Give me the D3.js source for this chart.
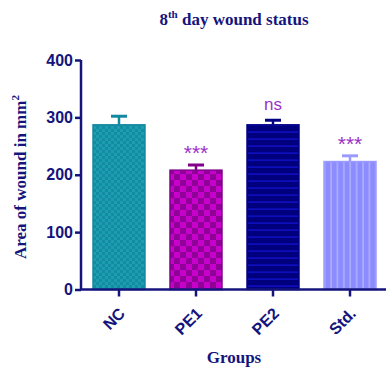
<!DOCTYPE html>
<html>
<head>
<meta charset="utf-8">
<script src="https://cdn.jsdelivr.net/npm/d3@7/dist/d3.min.js"></script>
<style>
  html, body { margin: 0; padding: 0; background: #fff; }
  svg { display: block; }
</style>
</head>
<body>
<svg id="chart" width="386" height="371"></svg>
<script>
// Wound area on day 8 (mean and upper error), per treatment group
const groups = ["NC", "PE1", "PE2", "Std."];
const means = [287, 208, 287, 223];
const errors = [15, 9, 8, 10];
const marks = ["", "***", "ns", "***"];
const yTicks = [0, 100, 200, 300, 400];

const svg = d3.select("#chart");
const navy = "#14147c";

const x = d3.scaleBand().domain(groups).range([80.5, 388.5])
  .paddingInner(0.325).paddingOuter(0.1625);
const y = d3.scaleLinear().domain([0, 400]).range([289.5, 60]);

// Fill patterns for each bar
const defs = svg.append("defs");
const p1 = defs.append("pattern").attr("id", "pNC").attr("patternUnits", "userSpaceOnUse")
  .attr("width", 6).attr("height", 6);
p1.append("rect").attr("width", 6).attr("height", 6).attr("fill", "#1c9db0");
p1.append("rect").attr("width", 3).attr("height", 3).attr("fill", "#138ba2");
p1.append("rect").attr("x", 3).attr("y", 3).attr("width", 3).attr("height", 3).attr("fill", "#138ba2");

const p2 = defs.append("pattern").attr("id", "pPE1").attr("patternUnits", "userSpaceOnUse")
  .attr("width", 12).attr("height", 12);
p2.append("rect").attr("width", 12).attr("height", 12).attr("fill", "#c800cc");
p2.append("rect").attr("width", 6).attr("height", 6).attr("fill", "#8e0096");
p2.append("rect").attr("x", 6).attr("y", 6).attr("width", 6).attr("height", 6).attr("fill", "#8e0096");

const p3 = defs.append("pattern").attr("id", "pPE2").attr("patternUnits", "userSpaceOnUse")
  .attr("width", 7).attr("height", 7);
p3.append("rect").attr("width", 7).attr("height", 7).attr("fill", "#00007e");
p3.append("rect").attr("y", 5.5).attr("width", 7).attr("height", 1.2).attr("fill", "#1414d8");

const p4 = defs.append("pattern").attr("id", "pStd").attr("patternUnits", "userSpaceOnUse")
  .attr("width", 6.4).attr("height", 6);
p4.append("rect").attr("width", 6.4).attr("height", 6).attr("fill", "#8c8cff");
p4.append("rect").attr("x", 4).attr("width", 1.3).attr("height", 6).attr("fill", "#b4b4ff");

const fills = ["url(#pNC)", "url(#pPE1)", "url(#pPE2)", "url(#pStd)"];
const edges = ["#1289a0", "#82008c", "#000080", "#9a9aff"];

// Error bars (upper only)
const eb = svg.append("g");
groups.forEach((g, i) => {
  const cx = x(g) + x.bandwidth() / 2;
  eb.append("line").attr("x1", cx).attr("x2", cx)
    .attr("y1", y(means[i])).attr("y2", y(means[i] + errors[i]))
    .attr("stroke", edges[i]).attr("stroke-width", 2.5);
  eb.append("line").attr("x1", cx - 8).attr("x2", cx + 8)
    .attr("y1", y(means[i] + errors[i])).attr("y2", y(means[i] + errors[i]))
    .attr("stroke", edges[i]).attr("stroke-width", 3);
});

// Bars
svg.append("g").selectAll("rect").data(groups).join("rect")
  .attr("x", d => x(d))
  .attr("y", (d, i) => y(means[i]))
  .attr("width", x.bandwidth())
  .attr("height", (d, i) => y(0) - y(means[i]))
  .attr("fill", (d, i) => fills[i])
  .attr("stroke", (d, i) => edges[i])
  .attr("stroke-width", 1.5);

// Significance marks
svg.append("g").selectAll("text").data(groups).join("text")
  .attr("x", d => x(d) + x.bandwidth() / 2)
  .attr("y", (d, i) => y(means[i] + errors[i]) - (marks[i] === "ns" ? 10 : 5))
  .attr("text-anchor", "middle")
  .attr("font-family", "Arial, 'Liberation Sans', sans-serif")
  .attr("font-size", (d, i) => marks[i] === "ns" ? 17 : 21)
  .attr("fill", "#9a32c8")
  .text((d, i) => marks[i]);

// Y axis
const yAxis = svg.append("g").attr("transform", "translate(81,0)")
  .call(d3.axisLeft(y).tickValues(yTicks).tickSize(6).tickPadding(2));
yAxis.select(".domain").attr("stroke", navy).attr("stroke-width", 2.5)
  .attr("d", `M0,${y(400)}V${y(0)}`);
yAxis.selectAll(".tick line").attr("stroke", navy).attr("stroke-width", 2.5);
yAxis.selectAll(".tick text")
  .attr("font-family", "Arial, 'Liberation Sans', sans-serif")
  .attr("font-weight", "bold").attr("font-size", 16).attr("fill", navy);

// X axis
const xAxis = svg.append("g").attr("transform", `translate(0,${y(0)})`)
  .call(d3.axisBottom(x).tickSize(7).tickSizeOuter(0).tickPadding(4));
xAxis.select(".domain").attr("stroke", navy).attr("stroke-width", 2.5)
  .attr("d", `M80,0H386`);
xAxis.selectAll(".tick line").attr("stroke", navy).attr("stroke-width", 2.5);
xAxis.selectAll(".tick text")
  .attr("font-family", "Arial, 'Liberation Sans', sans-serif")
  .attr("font-weight", "bold").attr("font-size", 16).attr("fill", navy)
  .attr("text-anchor", "end")
  .attr("dy", null)
  .attr("transform", "translate(7,25) rotate(-45)")
  .attr("y", 0).attr("x", 0);

// Title
const title = svg.append("text").attr("x", 234).attr("y", 25)
  .attr("text-anchor", "middle")
  .attr("font-family", "'Liberation Serif', 'Times New Roman', serif")
  .attr("font-weight", "bold").attr("font-size", 17).attr("fill", navy);
title.append("tspan").text("8");
title.append("tspan").attr("font-size", 11).attr("dy", -7).text("th");
title.append("tspan").attr("dy", 7).text(" day wound status");

// Axis titles
svg.append("text").attr("x", 234).attr("y", 363)
  .attr("text-anchor", "middle")
  .attr("font-family", "'Liberation Serif', 'Times New Roman', serif")
  .attr("font-weight", "bold").attr("font-size", 17).attr("fill", navy)
  .text("Groups");

const yl = svg.append("text")
  .attr("transform", "translate(26,177) rotate(-90)")
  .attr("text-anchor", "middle")
  .attr("font-family", "'Liberation Serif', 'Times New Roman', serif")
  .attr("font-weight", "bold").attr("font-size", 17).attr("fill", navy);
yl.append("tspan").text("Area of wound in mm");
yl.append("tspan").attr("font-size", 11).attr("dy", -7).text("2");
</script>
</body>
</html>
